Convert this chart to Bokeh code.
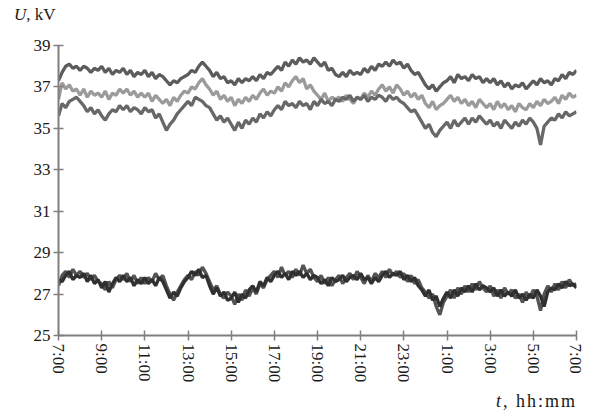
from bokeh.plotting import figure
from bokeh.models import Range1d, FixedTicker, Div
from bokeh.layouts import column
from bokeh.embed import file_html
from bokeh.resources import INLINE

# time in hours after 7:00, 10-minute steps (145 samples over 24 h)
hours = [i / 6 for i in range(145)]

tick_hours = [0, 2, 4, 6, 8, 10, 12, 14, 16, 18, 20, 22, 24]
tick_labels = ["7:00", "9:00", "11:00", "13:00", "15:00", "17:00", "19:00",
               "21:00", "23:00", "1:00", "3:00", "5:00", "7:00"]
y_ticks = [25, 27, 29, 31, 33, 35, 37, 39]

u_top = [
    37.3, 37.7, 38.0, 38.1, 37.9, 38.0, 37.8, 38.0, 37.9, 37.7, 37.9, 37.8,
    38.0, 37.7, 37.9, 37.6, 37.8, 37.7, 37.9, 37.6, 37.8, 37.5, 37.7, 37.6,
    37.8, 37.5, 37.7, 37.4, 37.6, 37.5, 37.3, 37.1, 37.3, 37.2, 37.4, 37.5,
    37.6, 37.8, 37.7, 38.0, 38.2, 38.0, 37.8, 37.5, 37.7, 37.4, 37.5, 37.2,
    37.3, 37.1, 37.4, 37.2, 37.4, 37.3, 37.5, 37.3, 37.6, 37.4, 37.7, 37.6,
    37.8, 38.0, 37.8, 38.2, 38.0, 38.3, 38.1, 38.4, 38.2, 38.3, 38.1, 38.4,
    38.2, 38.0, 38.2, 37.8, 37.9, 37.6, 37.5, 37.7, 37.5, 37.8, 37.6, 37.7,
    37.6, 37.9, 37.7, 38.0, 37.8, 38.1, 38.0, 38.2, 38.0, 38.3, 38.1, 38.2,
    37.9, 38.1, 37.8, 37.6, 37.7, 37.4, 37.1, 36.9, 37.1, 36.8, 37.0, 37.2,
    37.3, 37.5, 37.2, 37.6, 37.4, 37.5, 37.3, 37.6, 37.4, 37.5, 37.2, 37.4,
    37.2, 37.4, 37.1, 37.3, 37.0, 37.2, 36.9, 37.1, 37.0, 37.2, 36.9, 37.1,
    37.3, 37.1, 37.4, 37.2, 37.3, 37.1, 37.4, 37.3, 37.6, 37.4, 37.7, 37.6,
    37.8]

u_mid = [
    36.4, 37.2, 36.9, 37.1, 36.8, 36.9, 36.6, 36.9, 36.5, 36.8, 36.6, 36.7,
    36.5, 36.8, 36.4, 36.7, 36.6, 36.9, 36.7, 36.9, 36.6, 36.8, 36.5, 36.7,
    36.5, 36.7, 36.3, 36.6, 36.4, 36.2, 36.4, 36.1, 36.5, 36.3, 36.6, 36.8,
    36.7, 37.0, 36.9, 37.2, 37.4, 37.1, 36.9, 36.6, 36.8, 36.4, 36.6, 36.3,
    36.5, 36.1, 36.4, 36.2, 36.5, 36.3, 36.6, 36.4, 36.7, 36.9, 36.6, 36.8,
    36.7, 37.0, 36.8, 37.2, 37.0, 37.3, 37.5, 37.2, 37.4, 36.9, 37.1, 36.8,
    36.6, 36.4, 36.7, 36.3, 36.5, 36.4, 36.5, 36.3, 36.6, 36.4, 36.2, 36.5,
    36.4, 36.7, 36.5, 36.8, 36.6, 36.9, 37.1, 36.8, 37.0, 36.7, 37.1, 36.9,
    36.6, 36.8, 36.5, 36.7, 36.4, 36.6, 36.2, 36.0, 36.3, 35.9, 36.1, 36.2,
    36.4, 36.6, 36.3, 36.5, 36.2, 36.4, 36.1, 36.3, 36.0, 36.4, 36.2, 36.0,
    36.2, 35.9, 36.3, 36.0, 36.2, 35.9, 36.1, 35.8, 36.2, 36.0, 35.9, 36.2,
    36.0, 36.3, 36.1, 36.4, 36.2, 36.3, 36.5, 36.2, 36.6, 36.4, 36.7, 36.5,
    36.6]

u_low = [
    35.6, 36.2, 36.0, 36.3, 36.4, 36.5, 36.3, 36.1, 35.8, 36.0, 35.7, 35.9,
    35.6, 35.4, 35.7, 35.9, 35.8, 36.1, 35.9, 36.1, 35.8, 36.0, 35.9, 35.7,
    36.0, 35.8, 35.9, 35.5, 35.7, 35.3, 34.9, 35.2, 35.4, 35.7, 35.9, 36.1,
    36.3, 36.1, 36.5, 36.4, 36.3, 36.1, 36.0, 35.7, 35.4, 35.6, 35.3, 35.5,
    35.2, 34.9, 35.3, 35.0, 35.4, 35.2, 35.5, 35.3, 35.7, 35.5, 35.8, 35.6,
    35.9, 36.1, 35.9, 36.3, 36.1, 36.2, 36.0, 36.3, 36.1, 36.2, 35.9, 36.3,
    36.1, 36.4, 36.2, 36.3, 36.1, 36.4, 36.3, 36.5, 36.4, 36.6, 36.3, 36.5,
    36.4, 36.6, 36.3, 36.5, 36.4, 36.6, 36.5, 36.3, 36.6, 36.4, 36.5, 36.3,
    36.2, 36.0, 35.8, 35.9, 35.6, 35.3, 35.0, 35.2, 34.8, 34.6, 34.9, 35.1,
    35.3, 35.0, 35.4, 35.1, 35.3, 35.5, 35.2, 35.5, 35.3, 35.6, 35.4, 35.2,
    35.4, 35.1, 35.3, 35.0, 35.4, 35.2, 35.0, 35.3, 35.1, 35.4, 35.2, 35.5,
    35.3, 35.0, 34.2, 35.1, 35.3, 35.5, 35.4, 35.7, 35.5, 35.8, 35.6, 35.7,
    35.8]

u_bot_a = [
    27.4, 27.9, 28.1, 27.8, 28.2, 27.9, 28.1, 27.8, 28.0, 27.7, 27.9, 27.6,
    27.5, 27.2, 27.6, 27.3, 27.7, 27.9, 27.7, 28.0, 27.6, 27.9, 27.5, 27.8,
    27.5, 27.8, 27.6, 28.0, 27.7, 27.9, 27.4, 27.0, 26.7, 27.1, 27.4, 27.7,
    27.9, 27.7, 28.1, 27.9, 28.3, 28.0, 27.6, 27.2, 27.4, 27.0, 26.8, 27.1,
    26.9, 26.5, 27.0, 26.7, 27.2, 26.9, 27.3, 27.0, 27.5, 27.3, 27.7, 27.9,
    28.1, 27.8, 28.3, 27.9, 28.1, 27.8, 28.2, 27.9, 28.4, 28.0, 28.2, 27.8,
    27.6, 27.9, 27.5, 27.8, 27.4, 27.7, 27.9, 27.5, 27.8, 28.0, 27.7, 28.1,
    27.8, 27.5, 27.9, 27.6, 28.0, 27.8, 28.1, 27.8, 28.2, 27.9, 28.1, 27.8,
    28.0, 27.6, 27.9, 27.5, 27.7, 27.3, 27.1, 26.8, 27.0, 26.4, 26.0, 26.6,
    26.9, 27.2, 26.8, 27.3, 27.0, 27.4, 27.1, 27.5, 27.2, 27.6, 27.3, 27.1,
    27.4, 26.9, 27.2, 26.8, 27.3, 27.0, 27.2, 26.8, 27.0, 26.6, 27.1, 26.8,
    27.2, 26.9, 26.2, 27.0, 27.4, 27.1, 27.5, 27.2, 27.6, 27.3, 27.7, 27.4,
    27.5]

u_bot_b = [
    27.7, 27.6, 27.9, 28.1, 27.7, 27.9, 27.8, 28.0, 27.6, 27.9, 27.5, 27.7,
    27.3, 27.6, 27.1, 27.5, 27.8, 27.6, 27.9, 27.6, 27.8, 27.4, 27.7, 27.5,
    27.8, 27.5, 27.7, 27.4, 27.8, 27.6, 27.2, 26.8, 27.1, 26.9, 27.3, 27.6,
    27.8, 28.1, 27.9, 28.2, 27.8, 27.9, 27.4, 27.0, 27.3, 26.9, 27.1, 26.7,
    26.8, 27.1, 26.6, 27.0, 26.8, 27.2, 27.4, 27.1, 27.6, 27.4, 27.8, 27.6,
    27.9, 28.1, 27.8, 28.0, 27.7, 28.1, 27.9, 28.1, 27.8, 28.0, 27.7, 27.9,
    27.8, 27.5, 27.7, 27.4, 27.8, 27.6, 27.7, 27.9, 27.6, 27.8, 27.9, 27.7,
    28.0, 27.7, 27.8, 27.5, 27.8, 27.6, 27.9, 28.1, 27.8, 28.0, 27.9, 28.1,
    27.7, 27.9, 27.6, 27.8, 27.4, 27.2, 26.9, 27.2, 26.7, 26.9, 26.4, 26.8,
    27.1, 26.8, 27.2, 26.9, 27.3, 27.1, 27.4, 27.1, 27.5, 27.2, 27.4, 27.3,
    27.1, 27.3, 26.9, 27.2, 26.9, 27.1, 26.9, 27.2, 26.8, 27.0, 26.7, 27.0,
    26.8, 27.2, 26.9, 26.4, 27.1, 27.3, 27.2, 27.5, 27.3, 27.6, 27.4, 27.5,
    27.3]

series = [
    (u_top, "#5c5c5c"),
    (u_mid, "#9b9b9b"),
    (u_low, "#686868"),
    (u_bot_a, "#545454"),
    (u_bot_b, "#303030"),
]

FONT = "Liberation Serif"

p = figure(width=584, height=362, output_backend="svg", toolbar_location=None,
           x_range=Range1d(0, 24), y_range=Range1d(25, 39),
           min_border_left=58, min_border_right=8, min_border_top=19,
           min_border_bottom=53)
p.outline_line_color = None
p.xgrid.visible = False
p.ygrid.visible = False

for vals, col in series:
    p.line(hours, vals, line_color=col, line_width=3.3)

for ax in (p.xaxis[0], p.yaxis[0]):
    ax.axis_line_color = "#7f7f7f"
    ax.axis_line_width = 2
    ax.major_tick_line_color = "#7f7f7f"
    ax.major_tick_line_width = 1.5
    ax.major_tick_in = 5
    ax.major_tick_out = 5
    ax.minor_tick_line_color = None
    ax.major_label_text_font = FONT
    ax.major_label_text_font_size = "17px"
    ax.major_label_text_color = "#1a1a1a"

p.xaxis.ticker = FixedTicker(ticks=tick_hours)
p.xaxis.major_label_overrides = {h: s for h, s in zip(tick_hours, tick_labels)}
p.xaxis.major_label_orientation = "vertical"
p.xaxis.major_label_standoff = 3
p.yaxis.ticker = FixedTicker(ticks=y_ticks)
p.yaxis.major_label_standoff = 3

base_style = ("font-family:'Liberation Serif',serif; font-size:17px; "
              "color:#1a1a1a; white-space:nowrap;")
top_label = Div(
    text=f'<div style="{base_style} line-height:30px; padding-left:14px;">'
         '<i>U</i>, kV</div>',
    width=584, height=26, margin=(0, 0, 0, 0))
bottom_label = Div(
    text=f'<div style="{base_style} font-size:18px; line-height:26px; '
         'letter-spacing:2px; padding-left:496px;"><i>t</i>, hh:mm</div>',
    width=584, height=24, margin=(0, 0, 0, 0))

layout = column(top_label, p, bottom_label, spacing=0)

open("out.html", "w").write(file_html(layout, INLINE))
